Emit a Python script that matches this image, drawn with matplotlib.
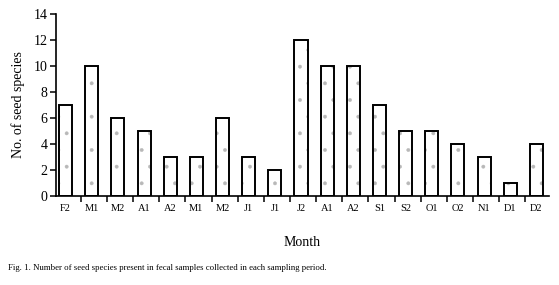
import numpy as np
import matplotlib.pyplot as plt
from matplotlib.ticker import FixedLocator

# periods (two halves of each month) and no. of seed species
periods = ['F2', 'M1', 'M2', 'A1', 'A2', 'M1', 'M2', 'J1', 'J1', 'J2',
           'A1', 'A2', 'S1', 'S2', 'O1', 'O2', 'N1', 'D1', 'D2']
n_species = [7, 10, 6, 5, 3, 3, 6, 3, 2, 12, 10, 10, 7, 5, 5, 4, 3, 1, 4]
y_ticks = [0, 2, 4, 6, 8, 10, 12, 14]

plt.rcParams['font.family'] = ['Liberation Serif', 'DejaVu Serif']
plt.rcParams['hatch.linewidth'] = 0.3

fig = plt.figure(figsize=(5.59, 2.85), dpi=100)
ax = fig.add_axes([0.100, 0.312, 0.882, 0.639])

x = np.arange(len(periods))
# faint stipple inside, then the black outline on top
ax.bar(x, n_species, width=0.5, color='white', edgecolor='#b8b8b8',
       linewidth=0, hatch='.', zorder=2)
ax.bar(x, n_species, width=0.5, fill=False, edgecolor='black',
       linewidth=1.4, zorder=3)

ax.set_xlim(-0.37, 18.48)
ax.set_ylim(0, 14)
ax.set_yticks(y_ticks)
ax.set_xticks(x)
ax.set_xticklabels(periods, fontsize=7.5)
ax.xaxis.set_minor_locator(FixedLocator(x[:-1] + 0.58))
ax.tick_params(axis='x', which='major', length=0, pad=6)
ax.tick_params(axis='x', which='minor', length=4, width=1.1, direction='out')
ax.tick_params(axis='y', length=4, width=1.1, direction='out', labelsize=10, pad=2)

for s in ['top', 'right']:
    ax.spines[s].set_visible(False)
for s in ['left', 'bottom']:
    ax.spines[s].set_linewidth(1.2)

ax.set_ylabel('No. of seed species', fontsize=10, labelpad=6)
ax.set_xlabel('Month', fontsize=10, labelpad=16)

fig.text(0.014, 0.06, 'Fig. 1. Number of seed species present in fecal samples '
         'collected in each sampling period.', fontsize=6.3, ha='left', va='center')

fig.savefig('out.png', dpi=100, facecolor='white')
